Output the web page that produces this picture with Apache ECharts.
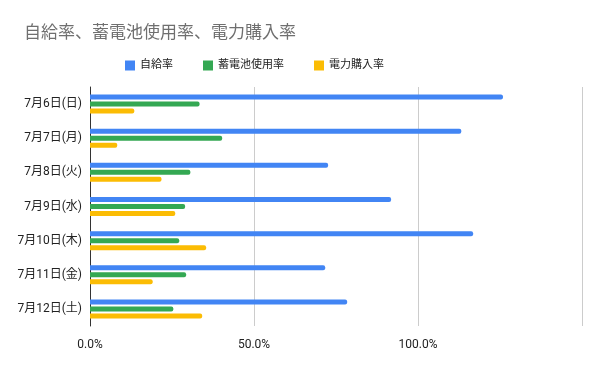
<!DOCTYPE html>
<html>
<head>
<meta charset="utf-8">
<script src="https://cdn.jsdelivr.net/npm/echarts@6/dist/echarts.min.js"></script>
<style>
html, body { margin: 0; padding: 0; background: #fff; }
#chart { width: 600px; height: 371px; }
</style>
</head>
<body>
<div id="chart"></div>
<script>
// 日付（カテゴリ）
var days = ['7月6日(日)', '7月7日(月)', '7月8日(火)', '7月9日(水)', '7月10日(木)', '7月11日(金)', '7月12日(土)'];
// 各率（%）
var selfRate = [125.9, 113.2, 72.6, 91.8, 116.8, 71.7, 78.4];
var batteryRate = [33.4, 40.3, 30.6, 29.0, 27.2, 29.3, 25.4];
var buyRate = [13.5, 8.3, 21.8, 26.0, 35.4, 19.1, 34.2];
var xTicks = [0, 50, 100, 150];

var font = "Roboto, 'Noto Sans CJK JP', sans-serif";
var myChart = echarts.init(document.getElementById('chart'));

var option = {
    animation: false,
    color: ['#4285F4', '#34A853', '#FBBC04'],
    title: {
        text: '自給率、蓄電池使用率、電力購入率',
        left: 19,
        top: 20,
        textStyle: { fontFamily: font, fontSize: 17, fontWeight: 'normal', color: '#6f6f6f' }
    },
    legend: {
        top: 55,
        left: 120,
        itemWidth: 10,
        itemHeight: 10,
        itemGap: 30,
        icon: 'rect',
        textStyle: { fontFamily: font, fontSize: 11, color: '#222' },
        data: ['自給率', '蓄電池使用率', '電力購入率']
    },
    grid: {
        left: 90,
        right: 18,
        top: 87,
        bottom: 45,
        containLabel: false
    },
    xAxis: {
        type: 'value',
        min: xTicks[0],
        max: xTicks[xTicks.length - 1],
        interval: 50,
        axisLine: { show: false },
        axisTick: { show: false },
        splitLine: { lineStyle: { color: '#cccccc' } },
        axisLabel: {
            margin: 13,
            fontFamily: font,
            fontSize: 12,
            color: '#222',
            formatter: function (v) {
                return v === 150 ? '' : v.toFixed(1) + '%';
            }
        }
    },
    yAxis: {
        type: 'category',
        inverse: true,
        data: days,
        axisLine: { lineStyle: { color: '#333', width: 1 } },
        axisTick: { show: false },
        axisLabel: { margin: 8, fontFamily: font, fontSize: 12, color: '#222' }
    },
    series: [
        { name: '自給率', type: 'bar', data: selfRate, barWidth: 5, barGap: '40%', itemStyle: { borderRadius: [0, 2, 2, 0] } },
        { name: '蓄電池使用率', type: 'bar', data: batteryRate, barWidth: 5, barGap: '40%', itemStyle: { borderRadius: [0, 2, 2, 0] } },
        { name: '電力購入率', type: 'bar', data: buyRate, barWidth: 5, barGap: '40%', itemStyle: { borderRadius: [0, 2, 2, 0] } }
    ]
};

myChart.setOption(option);
</script>
</body>
</html>
